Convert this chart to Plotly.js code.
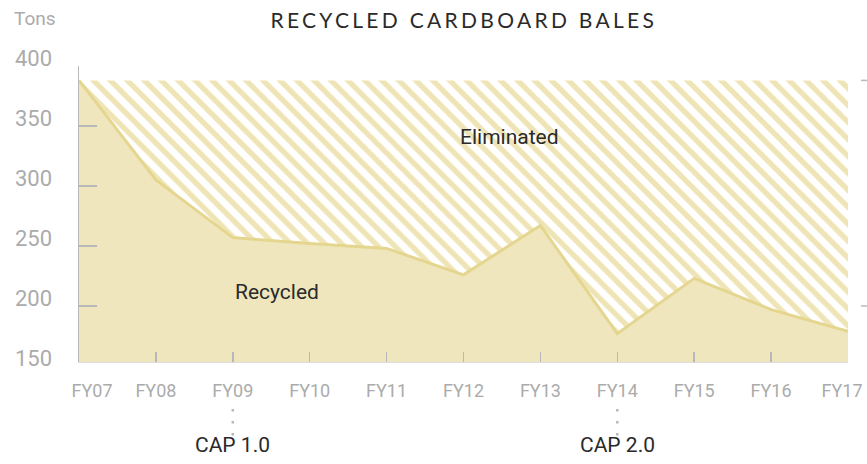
<!DOCTYPE html>
<html>
<head>
<meta charset="utf-8">
<script src="https://cdn.plot.ly/plotly-3.0.1.min.js"></script>
<style>
  html, body { margin: 0; padding: 0; background: #fff; }
  #chart { width: 867px; height: 464px; }
  .gtitle { letter-spacing: 3.3px; }
</style>
</head>
<body>
<div id="chart"></div>
<script>
// ---- data ----
const years = ['FY07','FY08','FY09','FY10','FY11','FY12','FY13','FY14','FY15','FY16','FY17'];
const recycled = [388, 305, 257, 252, 248, 226, 267, 177, 223, 197, 179];
const baseline = [388, 388, 388, 388, 388, 388, 388, 388, 388, 388, 388];
const yTicks = [150, 200, 250, 300, 350, 400];
const capYears = ['FY09', 'FY14'];
const capLabels = ['CAP 1.0', 'CAP 2.0'];
const areaLabels = ['Eliminated', 'Recycled'];
const rightMarks = [388, 200];

const COND = 'Roboto, "Liberation Sans", sans-serif';
const GREY = '#ababab';
const AXIS = '#b8b8b8';

const traces = [
  {
    x: years, y: recycled, type: 'scatter', mode: 'lines',
    line: { color: '#e5d68f', width: 3 },
    fill: 'tozeroy', fillcolor: '#efe6bd',
    hoverinfo: 'skip', showlegend: false
  },
  {
    x: years, y: baseline, type: 'scatter', mode: 'lines',
    line: { width: 0, color: 'rgba(0,0,0,0)' },
    fill: 'tonexty', fillcolor: 'rgba(0,0,0,0)',
    fillpattern: { shape: '\\', fgcolor: '#efe4b5', bgcolor: '#ffffff', size: 12, solidity: 0.45 },
    hoverinfo: 'skip', showlegend: false
  }
];

const shapes = [
  { type: 'rect', xref: 'paper', yref: 'y', x0: -0.01, x1: 1.01, y0: 150, y1: 152.9,
    fillcolor: '#ffffff', line: { width: 0 }, layer: 'above' }
];
capYears.forEach(c => {
  shapes.push({ type: 'line', xref: 'x', yref: 'paper', x0: c, x1: c, y0: -0.143, y1: -0.233,
    line: { color: '#b8b8b8', width: 2.5, dash: '2.5px,9.5px' } });
});
rightMarks.forEach(v => {
  shapes.push({ type: 'line', xref: 'paper', yref: 'y', x0: 1.017, x1: 1.026, y0: v, y1: v,
    line: { color: AXIS, width: 1.5 } });
});

const annotations = [
  { text: areaLabels[0], x: 5.6, y: 341, xref: 'x', yref: 'y', showarrow: false,
    font: { family: COND, size: 21, color: '#2a2a2a' } },
  { text: areaLabels[1], x: 2.57, y: 212, xref: 'x', yref: 'y', showarrow: false,
    font: { family: COND, size: 21, color: '#2a2a2a' } },
  { text: 'Tons', x: 0, xref: 'paper', xshift: -67, xanchor: 'left', y: 1, yref: 'paper', yshift: 48,
    yanchor: 'middle', showarrow: false, font: { family: COND, size: 19, color: GREY } }
];
capYears.forEach((c, i) => {
  annotations.push({ text: capLabels[i], x: c, xref: 'x', y: -0.262, yref: 'paper', yanchor: 'middle',
    showarrow: false, font: { family: COND, size: 21, color: '#2a2a2a' } });
});

const layout = {
  width: 867, height: 464,
  margin: { l: 79, r: 19, t: 66, b: 98 },
  paper_bgcolor: '#ffffff', plot_bgcolor: '#ffffff',
  title: {
    text: 'RECYCLED CARDBOARD BALES',
    font: { family: 'Lato, "Open Sans", sans-serif', size: 21, weight: 400, color: '#2a2a2a' },
    x: 0.535, xanchor: 'center', y: 0.955, yanchor: 'middle'
  },
  xaxis: {
    type: 'category', range: [0, 10],
    anchor: 'free', position: 0.0133,
    showgrid: false, zeroline: false,
    showline: true, linecolor: AXIS, linewidth: 1.5,
    ticks: 'inside', ticklen: 10, tickcolor: AXIS, tickwidth: 1.5,
    tickfont: { family: COND, size: 18, color: GREY },
    ticklabelstandoff: 12
  },
  yaxis: {
    range: [150, 400],
    tickvals: yTicks,
    showgrid: false, zeroline: false,
    showline: true, linecolor: AXIS, linewidth: 1.5,
    ticks: 'inside', ticklen: 18, tickcolor: AXIS, tickwidth: 1.5,
    tickfont: { family: COND, size: 22, color: GREY },
    ticklabelstandoff: 21, ticklabelshift: -8
  },
  shapes: shapes,
  annotations: annotations,
  showlegend: false
};

Plotly.newPlot('chart', traces, layout, { displayModeBar: false, staticPlot: true }).then(() => {
  // nudge the two end tick labels inward as in the reference
  const labels = document.querySelectorAll('.xtick text');
  if (labels.length) {
    const first = labels[0], last = labels[labels.length - 1];
    first.setAttribute('x', parseFloat(first.getAttribute('x') || 0) + 13);
    last.setAttribute('x', parseFloat(last.getAttribute('x') || 0) - 6);
  }
});
</script>
</body>
</html>
